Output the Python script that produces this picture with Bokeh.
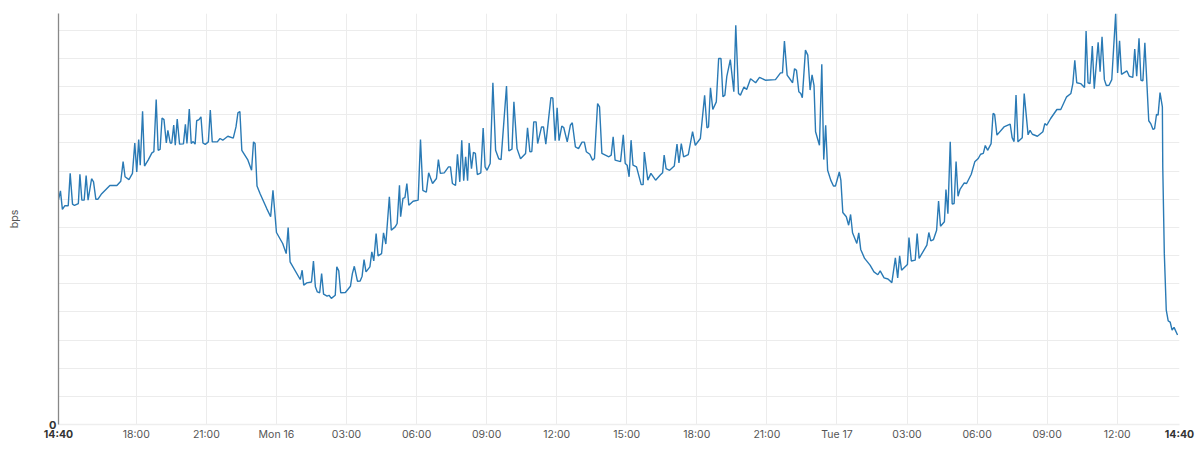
from bokeh.plotting import figure
from bokeh.models import FixedTicker, LinearAxis, Range1d
from bokeh.embed import file_html
from bokeh.resources import INLINE

# minutes since Sun 14:40, bps in hundredths of one grid step
minutes = [
0,5,10,16,25,30,36,41,51,55,60,66,71,76,85,90,96,101,111,132,150,160,166,171,181,190,196,201,206,210,216,221,231,240,245,251,256,261,266,271,277,281,287,291,296,300,305,311,321,326,330,336,341,346,351,355,361,366,371,377,385,390,395,408,415,422,435,449,456,461,466,471,486,496,501,505,510,518,535,545,551,560,576,585,590,595,621,626,630,638,650,655,660,665,671,676,681,690,695,701,711,715,720,725,737,750,755,760,768,775,780,785,790,800,805,810,816,821,830,835,841,850,855,865,870,876,
879,885,890,895,900,911,924,930,936,945,951,961,971,976,981,991,1002,1007,1012,1020,1025,1031,1036,1041,1046,1051,1055,1061,1066,1071,1076,1085,1091,1096,1101,1109,1116,1123,1131,1137,1151,1157,1165,1170,1178,1187,1200,1205,1211,1216,1221,1227,1231,1241,1246,1252,1265,1270,1276,1281,1286,1293,1298,1307,1315,1320,1328,1336,1345,1351,1356,1365,1372,1377,1385,1390,1396,1405,1414,1420,1425,1430,1444,1451,1456,1461,1466,1471,1476,1485,1497,1502,1505,1514,1522,1534,1546,1552,1556,1561,1570,1582,1589,1594,1600,1606,1618,1629,1636,1649,1660,1666,1670,1675,1681,1690,1696,1702,1707,1712,1717,1726,1735,1740,1747,1752,1761,1768,1778,1791,1801,1816,1842,1855,1860,1865,1872,1886,1891,1896,1902,
1907,1911,1919,1925,1931,1936,1941,1945,1955,1961,1966,1971,1976,1984,1991,1996,2006,2010,2015,2024,2030,2035,2040,2051,2056,2061,2071,2085,2095,2105,2111,2121,2131,2141,2150,2156,2161,2166,2181,2185,2191,2201,2206,2211,2231,2236,2241,2248,2256,2261,2266,2276,2280,2285,2291,2296,2301,2306,2311,2316,2327,2333,2345,2354,2363,2369,2376,2381,2387,2396,2401,2405,2411,2429,2445,2450,2455,2460,2465,2476,2481,2491,2496,2502,2515,2529,2534,2539,2549,2565,2575,2590,2601,2606,2611,2616,2626,2636,2640,2645,2650,2656,2661,2671,2676,2681,2687,2692,2699,2706,2716,2721,2726,2731,2745,2751,2760,2765,2770,2776,2781,2786,2791,2801,2806,2812,2816,2821,2825,2830,2836,2837,2841,2846,2851,2856,2861,2866,2875]
bps = [
799,830,764,777,777,892,783,778,785,889,797,797,884,797,873,862,800,800,820,849,849,864,934,880,870,892,1000,897,1012,921,1113,918,941,965,969,1154,974,977,1089,1083,1000,1045,1000,1000,1064,992,1085,996,997,1066,998,1121,998,1005,996,1079,1083,1093,1000,995,1004,1117,1004,1004,1016,1010,1024,1017,1057,1107,1112,974,941,903,1004,998,847,820,767,738,832,682,643,607,700,578,515,548,495,503,506,581,489,471,468,536,463,456,459,448,459,560,546,468,469,491,536,562,509,510,527,586,542,560,613,581,678,599,607,681,641,809,690,702,714,850,
738,803,806,856,779,793,797,1012,832,825,894,856,874,941,892,894,915,915,856,849,960,862,1010,866,951,866,1000,909,967,963,888,894,1053,915,903,927,1214,974,944,941,1202,972,978,1146,980,944,963,1054,969,970,1075,1075,998,1057,1057,996,1161,1160,1008,1125,1008,1060,1055,1004,1063,1072,986,980,1003,1003,969,960,939,945,1140,1128,963,957,951,957,1022,939,934,1029,927,921,880,1010,921,915,852,852,968,868,892,868,886,894,957,909,903,918,996,929,998,951,959,1040,992,1016,1169,1054,1057,1196,1119,1146,1300,1300,1164,1170,1237,1296,1182,1418,1176,1170,1199,1190,1228,1214,1233,1223,1225,1249,1249,1362,1241,1214,1264,1258,1182,
1176,1161,1330,1312,1188,1242,1205,1040,992,1280,941,1063,903,868,847,847,897,868,753,738,708,746,681,643,681,622,590,566,542,532,546,521,517,504,592,521,599,548,568,664,581,584,678,590,637,682,652,657,690,794,704,720,835,749,1004,783,785,934,811,835,858,856,889,933,945,960,963,991,974,998,1105,1102,1028,1057,1067,1019,1005,1170,1004,1019,1176,1029,1045,1031,1024,1040,1069,1063,1087,1119,1119,1164,1176,1211,1294,1214,1211,1197,1398,1214,1211,1344,1193,1358,1253,1377,1225,1204,1205,1225,1460,1249,1363,1244,1256,1237,1233,1334,1237,1372,1223,1221,1356,1079,1069,1048,1051,1102,1099,1179,1128,915,607,406,368,364,335,345,318]

x_tick_minutes = [200,380,560,740,920,1100,1280,1460,1640,1820,2000,2180,2360,2540,2720]
x_tick_labels = ["18:00","21:00","Mon 16","03:00","06:00","09:00","12:00","15:00","18:00","21:00","Tue 17","03:00","06:00","09:00","12:00"]
y_grid_values = list(range(0,1500,100))
end_labels_minutes = [0,2880]
end_label_text = "14:40"
FONT = "Inter"

p = figure(width=1200,height=450,output_backend="svg",toolbar_location=None,
           x_range=Range1d(0,2880),y_range=Range1d(0,1460),
           min_border_left=58,min_border_right=21,min_border_top=13,min_border_bottom=26,
           background_fill_color="white",border_fill_color="white",outline_line_color=None)
p.line(minutes,bps,line_color="#2a7ab5",line_width=1.4)

xa=p.xaxis[0]; ya=p.yaxis[0]
xa.ticker=FixedTicker(ticks=x_tick_minutes)
xa.major_label_overrides=dict(zip(x_tick_minutes,x_tick_labels))
xa.major_tick_line_color=None; xa.minor_tick_line_color=None; xa.major_tick_out=0
xa.axis_line_color="#eeeeee"; xa.axis_line_width=1.5
xa.major_label_text_font=FONT; xa.major_label_text_font_size="10.5px"; xa.major_label_text_color="#555555"
xa.major_label_standoff=3
ya.ticker=FixedTicker(ticks=y_grid_values)
ya.major_label_overrides={v:("0" if v==0 else "") for v in y_grid_values}
ya.major_tick_line_color=None; ya.minor_tick_line_color=None; ya.major_tick_out=0
ya.axis_line_color="#888888"; ya.axis_line_width=1.3
ya.major_label_text_font=FONT; ya.major_label_text_font_size="11px"; ya.major_label_text_font_style="bold"; ya.major_label_text_color="#333333"
ya.major_label_standoff=2
ya.axis_label="bps"; ya.axis_label_text_font=FONT; ya.axis_label_text_font_size="10.5px"
ya.axis_label_text_font_style="normal"; ya.axis_label_text_color="#555555"; ya.axis_label_standoff=25
p.xgrid.ticker=FixedTicker(ticks=x_tick_minutes)
p.ygrid.ticker=FixedTicker(ticks=y_grid_values)
p.xgrid.grid_line_color="#ececec"; p.ygrid.grid_line_color="#ececec"
p.xgrid.grid_line_width=1; p.ygrid.grid_line_width=1

end_axis = LinearAxis(ticker=FixedTicker(ticks=end_labels_minutes),
                      major_label_overrides={m:end_label_text for m in end_labels_minutes},
                      axis_line_color=None,major_tick_line_color=None,minor_tick_line_color=None,
                      major_tick_out=0,major_label_standoff=-16,
                      major_label_text_font=FONT,major_label_text_font_size="10.5px",
                      major_label_text_font_style="bold",major_label_text_color="#333333")
p.add_layout(end_axis,"below")
open("out.html","w").write(file_html(p,INLINE))
